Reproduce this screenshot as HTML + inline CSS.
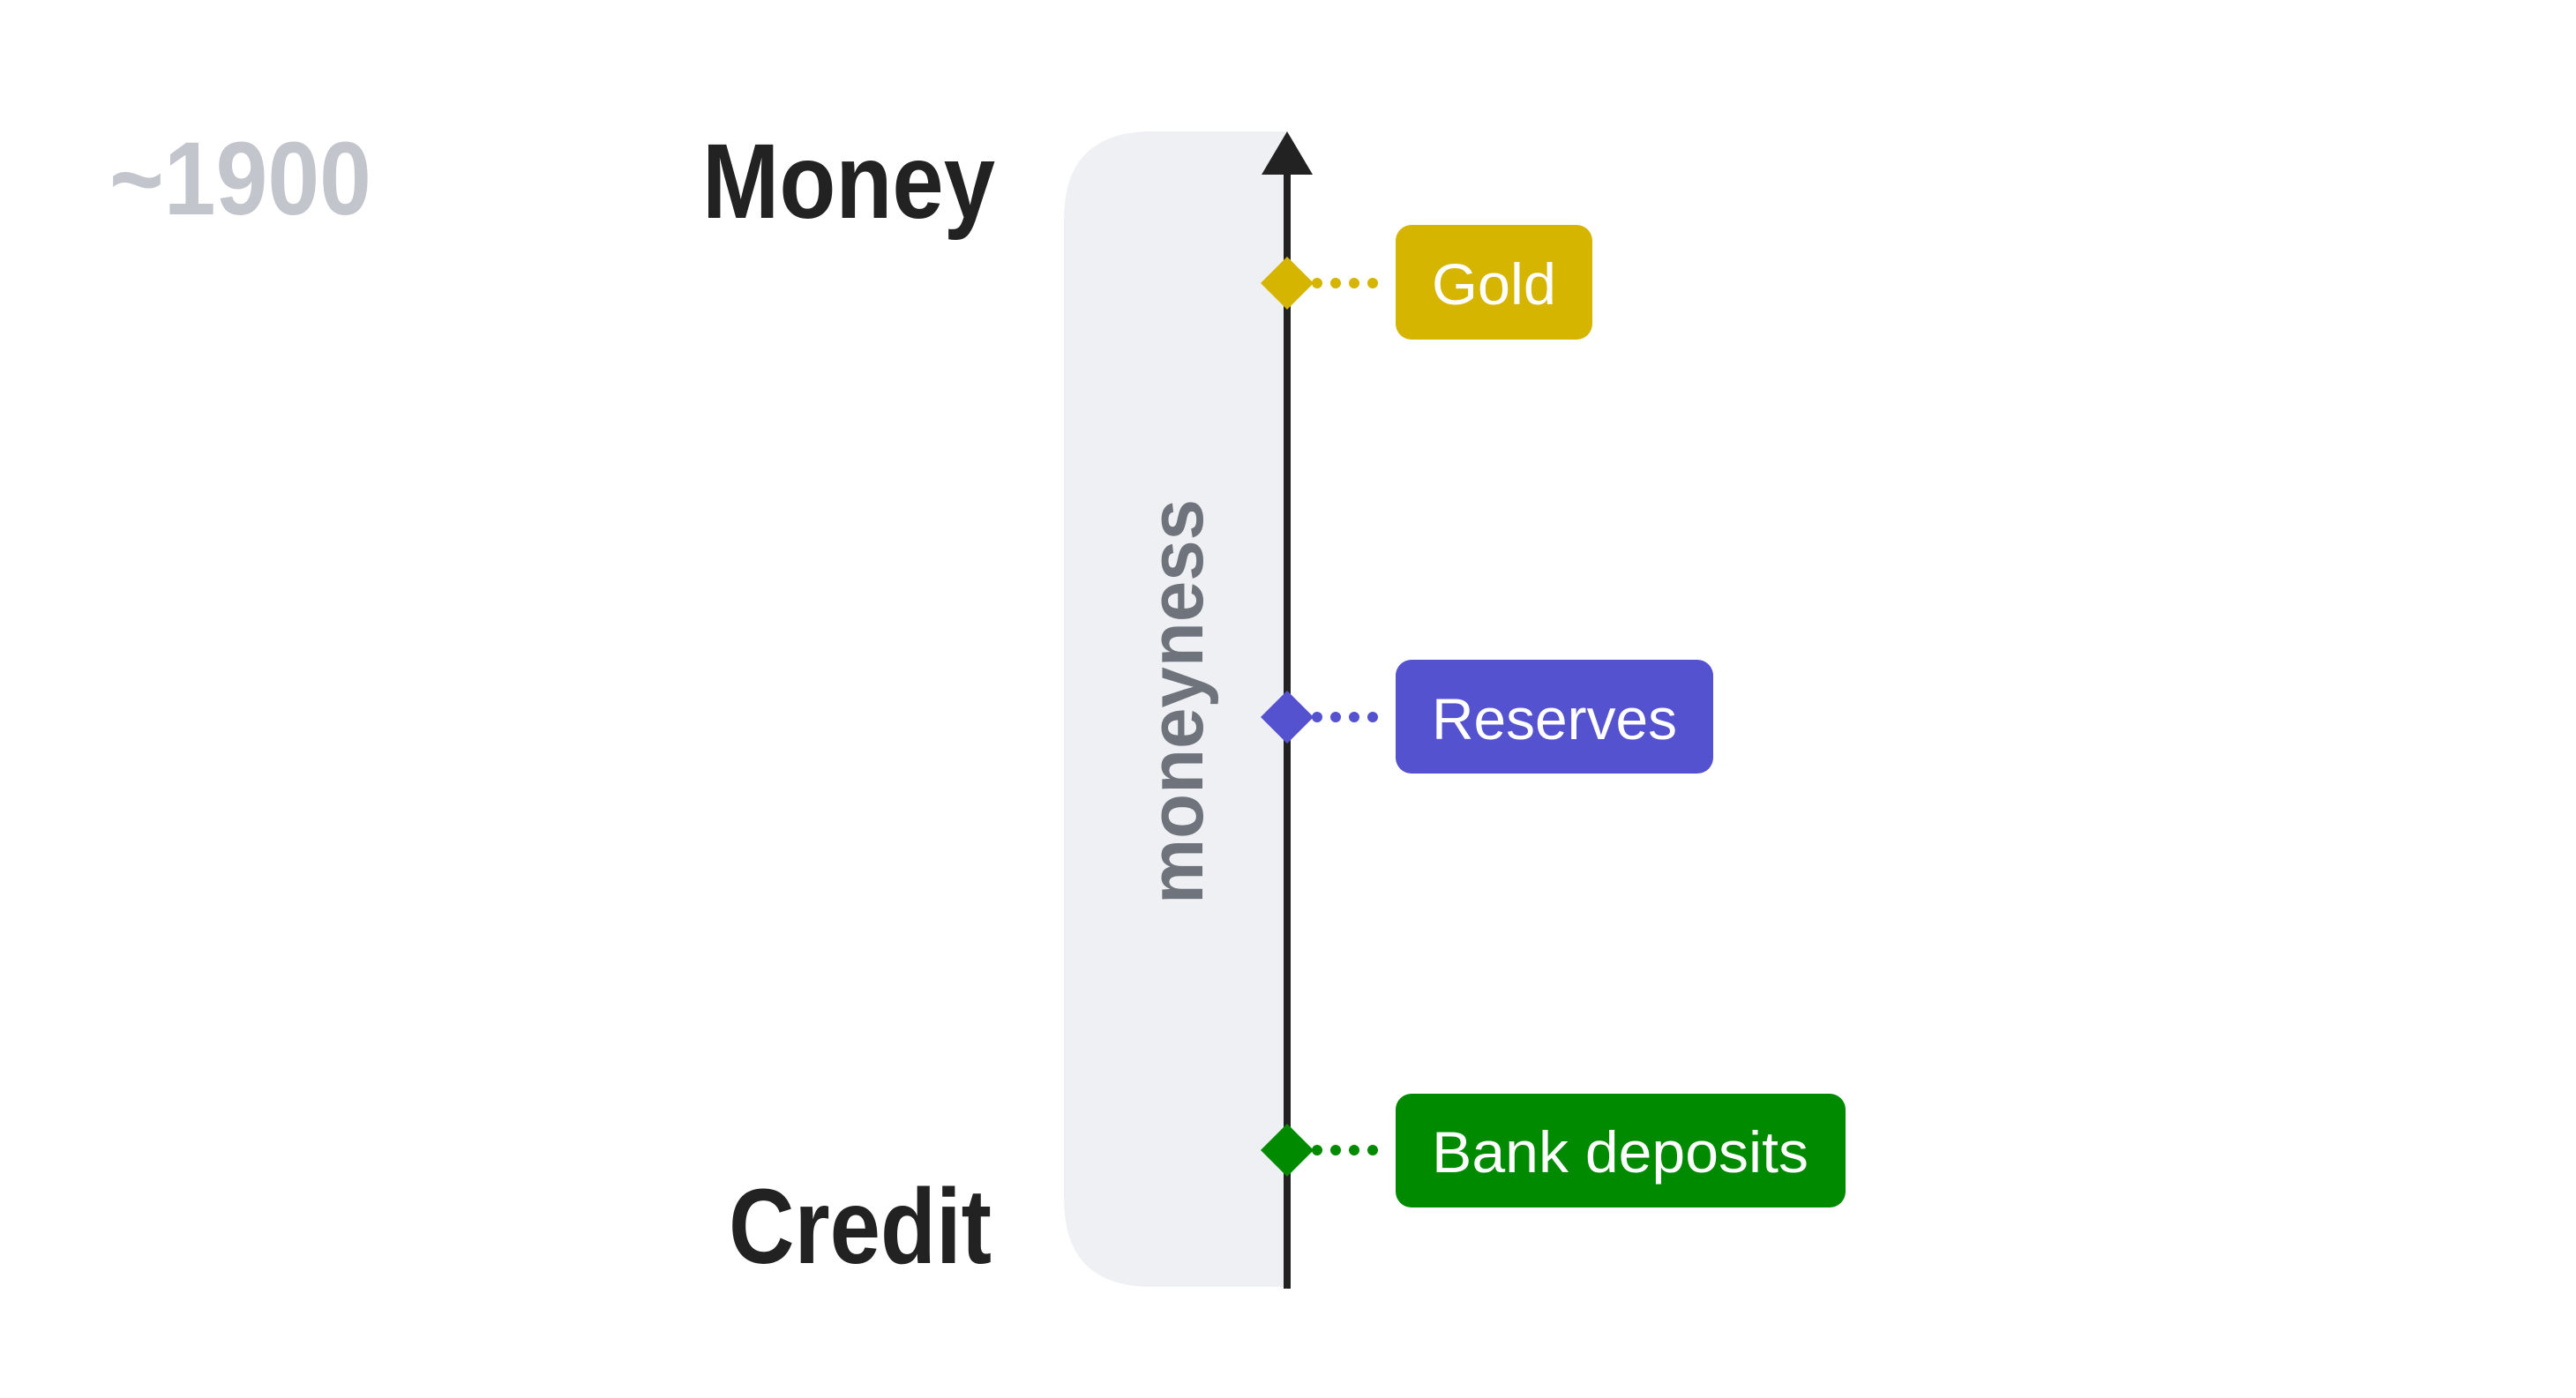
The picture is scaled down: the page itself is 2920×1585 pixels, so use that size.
<!DOCTYPE html>
<html><head><meta charset="utf-8"><style>html,body{margin:0;padding:0;background:#fff;}svg{display:block}</style></head>
<body>
<svg width="2920" height="1585" viewBox="0 0 2920 1585" xmlns="http://www.w3.org/2000/svg" font-family="Liberation Sans, sans-serif">
<rect width="2920" height="1585" fill="#fff"/>
<text x="124" y="243" font-size="118" font-weight="bold" fill="#C2C6CC" textLength="297" lengthAdjust="spacingAndGlyphs">~1900</text>
<text x="796" y="247" font-size="121" font-weight="bold" fill="#222" textLength="332" lengthAdjust="spacingAndGlyphs">Money</text>
<text x="826" y="1432" font-size="121" font-weight="bold" fill="#222" textLength="298" lengthAdjust="spacingAndGlyphs">Credit</text>
<g transform="translate(-7,-1)">
<path d="M1466 150 V1460 H1313 Q1213 1460 1213 1360 V250 Q1213 150 1313 150 Z" fill="#EFF0F3"/>
<text transform="translate(1370,1026) rotate(-90)" font-size="86" font-weight="bold" fill="#6E737C" textLength="459" lengthAdjust="spacingAndGlyphs">moneyness</text>
<line x1="1466" y1="190" x2="1466" y2="1462" stroke="#222" stroke-width="8"/>
<polygon points="1466,150 1495,199 1437,199" fill="#222"/>
<g>
<polygon points="1466,292 1496,322 1466,352 1436,322" fill="#D6B500"/>
<line x1="1500" y1="322" x2="1577" y2="322" stroke="#D6B500" stroke-width="12" stroke-linecap="round" stroke-dasharray="0 21"/>
<rect x="1589" y="256" width="223" height="130" rx="18" fill="#D6B500"/>
<text x="1630" y="346" font-size="66" fill="#fff" textLength="141" lengthAdjust="spacingAndGlyphs">Gold</text>
</g>
<g>
<polygon points="1466,784 1496,814 1466,844 1436,814" fill="#5552D0"/>
<line x1="1500" y1="814" x2="1577" y2="814" stroke="#5552D0" stroke-width="12" stroke-linecap="round" stroke-dasharray="0 21"/>
<rect x="1589" y="749" width="360" height="129" rx="18" fill="#5552D0"/>
<text x="1630" y="839" font-size="66" fill="#fff" textLength="278" lengthAdjust="spacingAndGlyphs">Reserves</text>
</g>
<g>
<polygon points="1466,1275 1496,1305 1466,1335 1436,1305" fill="#008A00"/>
<line x1="1500" y1="1305" x2="1577" y2="1305" stroke="#008A00" stroke-width="12" stroke-linecap="round" stroke-dasharray="0 21"/>
<rect x="1589" y="1241" width="510" height="129" rx="18" fill="#008A00"/>
<text x="1630" y="1330" font-size="66" fill="#fff" textLength="427" lengthAdjust="spacingAndGlyphs">Bank deposits</text>
</g>
</g>
</svg>
</body></html>
